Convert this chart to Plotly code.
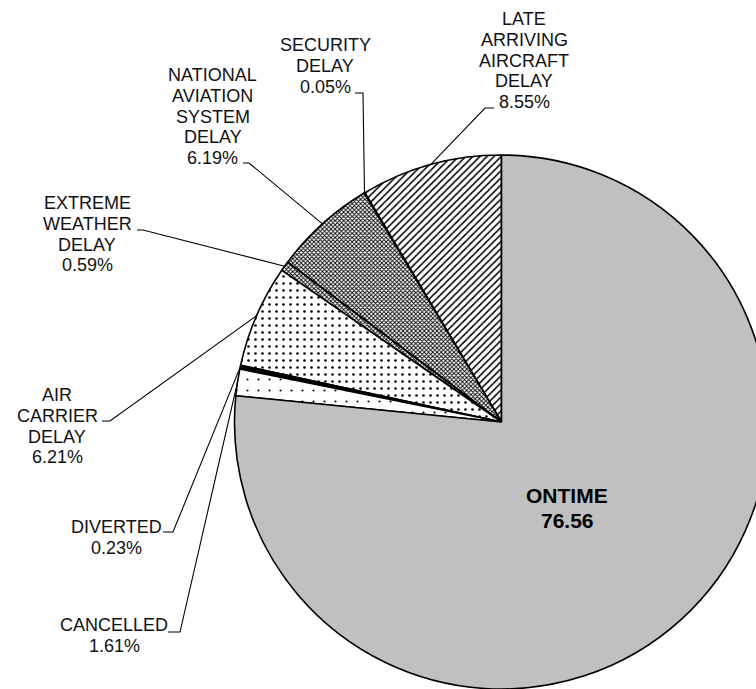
import math
import plotly.graph_objects as go

# ---------------- data ----------------
categories = ["LATE ARRIVING AIRCRAFT DELAY", "SECURITY DELAY",
              "NATIONAL AVIATION SYSTEM DELAY", "EXTREME WEATHER DELAY",
              "AIR CARRIER DELAY", "DIVERTED", "CANCELLED", "ONTIME"]
values = [8.55, 0.05, 6.19, 0.59, 6.21, 0.23, 1.61, 76.56]
label_lines = [
    ["LATE", "ARRIVING", "AIRCRAFT", "DELAY", "8.55%"],
    ["SECURITY", "DELAY", "0.05%"],
    ["NATIONAL", "AVIATION", "SYSTEM", "DELAY", "6.19%"],
    ["EXTREME", "WEATHER", "DELAY", "0.59%"],
    ["AIR", "CARRIER", "DELAY", "6.21%"],
    ["DIVERTED", "0.23%"],
    ["CANCELLED", "1.61%"],
    ["ONTIME", "76.56"],
]

# ---------------- styles ----------------
slice_colors = ["white", "white", "white", "white", "white", "black", "white", "#C0C0C0"]
pat_shapes = ["/", "", "x", "x", ".", "", ".", ""]
pat_sizes = [5, 4, 3, 3, 7, 4, 11, 4]
pat_solid = [0.3, 0.3, 0.5, 0.5, 0.11, 0.3, 0.03, 0.3]

W, H = 770, 689
CX, CY, R = 501.5, 422.0, 267.0   # pie geometry in pixels
FONT = "Liberation Sans, Arial, sans-serif"
FS = 18
LS = 20.8  # line spacing px

# label layout: center x, first line y, tick start/end x, tick y
label_layout = [
    dict(cx=524, y0=19,  tx0=494, tx1=485, ty=108),
    dict(cx=325, y0=45,  tx0=355, tx1=363, ty=93),
    dict(cx=213, y0=75,  tx0=243, tx1=249, ty=163),
    dict(cx=87,  y0=203, tx0=137, tx1=143, ty=230),
    dict(cx=57,  y0=395, tx0=102, tx1=110, ty=421),
    dict(cx=116, y0=527, tx0=163, tx1=173, ty=532),
    dict(cx=114, y0=625, tx0=168, tx1=180, ty=632),
    None,
]
ontime_layout = dict(cx=567, y0=495, ls=25, size=21)


def px(x):
    return x / W


def py(y):
    return 1 - y / H


total = sum(values)
# plotly places the first slice clockwise of the rotation angle when
# direction is counterclockwise; shift so the first slice starts at 12 o'clock
rotation = -values[0] / total * 360

fig = go.Figure(go.Pie(
    labels=categories, values=values, sort=False,
    direction="counterclockwise", rotation=rotation,
    textinfo="none", hoverinfo="label+percent",
    marker=dict(colors=slice_colors,
                line=dict(color="black", width=1.6),
                pattern=dict(shape=pat_shapes, size=pat_sizes,
                             solidity=pat_solid, fgcolor="black",
                             fgopacity=1, fillmode="overlay")),
    domain=dict(x=[(CX - R) / W, (CX + R) / W],
                y=[1 - (CY + R) / H, 1 - (CY - R) / H]),
    showlegend=False,
))

annotations = []
shapes = []
cum = 0.0
for i, v in enumerate(values):
    mid = (cum + v / 2) / total * 2 * math.pi
    cum += v
    lay = label_layout[i]
    if lay is None:
        continue
    ex = CX - R * math.sin(mid)
    ey = CY - R * math.cos(mid)
    path = "M {},{} L {},{} L {},{}".format(
        px(lay["tx0"]), py(lay["ty"]), px(lay["tx1"]), py(lay["ty"]), px(ex), py(ey))
    shapes.append(dict(type="path", xref="paper", yref="paper", path=path,
                       line=dict(color="black", width=1.1)))
    for j, t in enumerate(label_lines[i]):
        annotations.append(dict(
            x=px(lay["cx"]), y=py(lay["y0"] + j * LS), xref="paper", yref="paper",
            text=t, showarrow=False, xanchor="center", yanchor="middle",
            font=dict(family=FONT, size=FS, color="#111111")))

for j, t in enumerate(label_lines[-1]):
    annotations.append(dict(
        x=px(ontime_layout["cx"]), y=py(ontime_layout["y0"] + j * ontime_layout["ls"]),
        xref="paper", yref="paper", text="<b>" + t + "</b>", showarrow=False,
        xanchor="center", yanchor="middle",
        font=dict(family=FONT, size=ontime_layout["size"], color="black")))

fig.update_layout(
    width=W, height=H, margin=dict(l=0, r=0, t=0, b=0),
    paper_bgcolor="white", plot_bgcolor="white",
    annotations=annotations, shapes=shapes,
)

fig.write_html("out.html", config={"displayModeBar": False}, post_script=(
    "document.body.style.margin='0';"
    "document.body.style.overflow='hidden';"
    "document.documentElement.style.overflow='hidden';"))
